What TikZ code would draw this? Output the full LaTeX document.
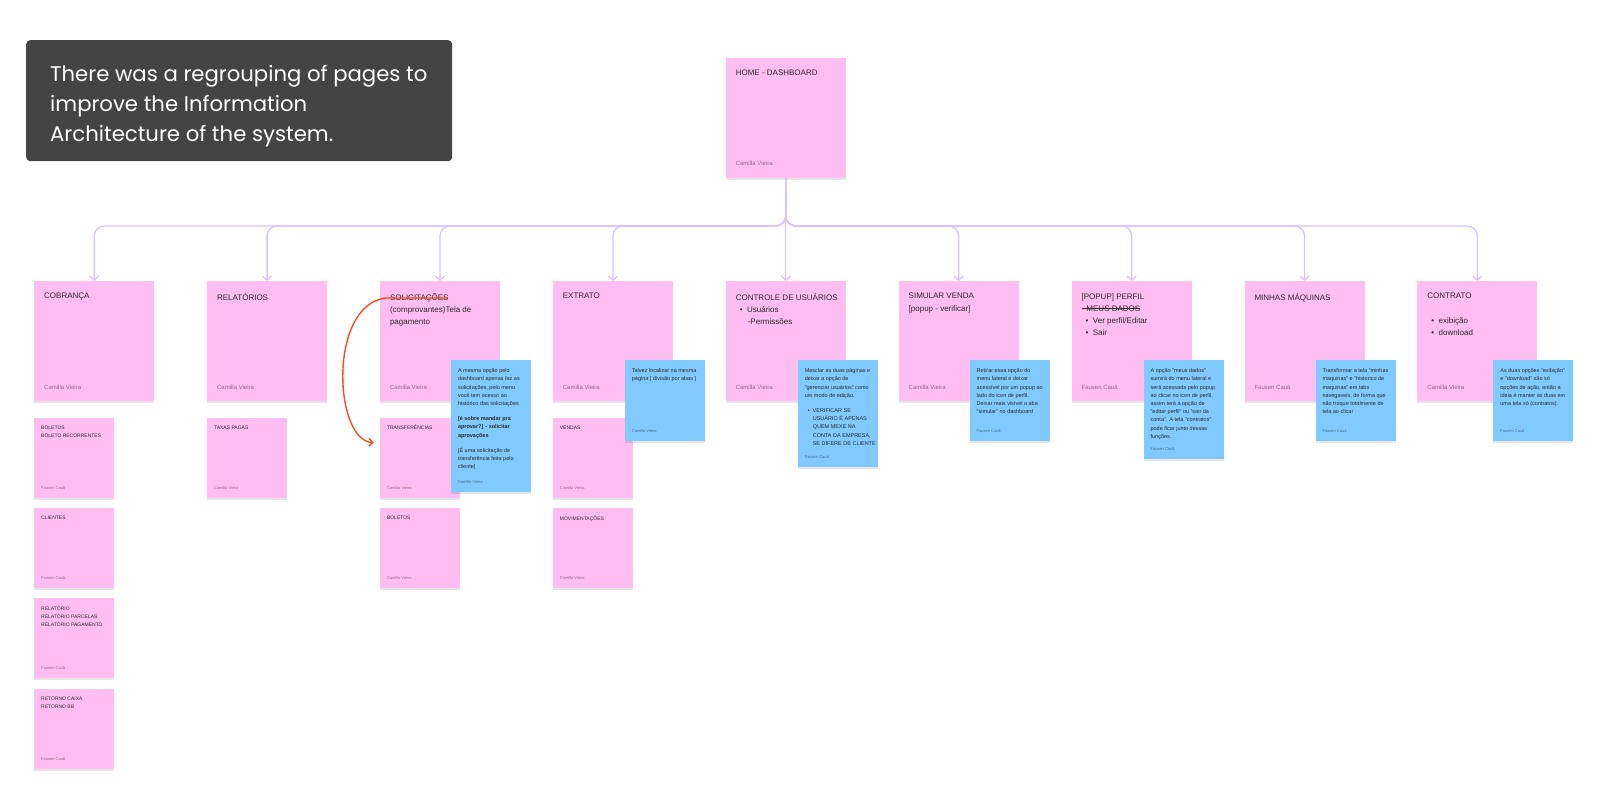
\documentclass[tikz,border=0pt]{standalone}
\usepackage{fontspec}
\setmainfont{Liberation Sans}
\newfontfamily\bannerfont{Poppins}
\usetikzlibrary{arrows.meta,positioning,shadows}
\definecolor{stickypink}{HTML}{FFBDF2}
\definecolor{stickyblue}{HTML}{80CAFF}
\definecolor{treeviolet}{HTML}{D8C2FF}
\definecolor{inkdark}{HTML}{2A2A2A}
\definecolor{signgray}{HTML}{8A6E8A}
\definecolor{notesign}{HTML}{4A6E8E}
\definecolor{markred}{HTML}{F24E1E}
\definecolor{bannergray}{HTML}{444444}
\newcommand{\stickybullet}[1]{\hspace*{4pt}\textbullet\hspace{4.5pt}#1}
\newcommand{\struck}[1]{\setbox0\hbox{#1}\rlap{\raisebox{0.33em}{\rule{\wd0}{0.5pt}}}\box0}
\tikzset{
  page/.style={fill=stickypink, minimum width=120pt, minimum height=120pt, inner sep=0pt,
    drop shadow={fill=black, opacity=0.10, shadow xshift=0pt, shadow yshift=-2pt}},
  subpage/.style={page, minimum width=80pt, minimum height=80pt},
  note/.style={fill=stickyblue, minimum width=80pt, inner sep=0pt,
    drop shadow={fill=black, opacity=0.10, shadow xshift=0pt, shadow yshift=-2pt}},
  pagetext/.style={anchor=north west, align=left, inner sep=0pt, text=inkdark,
    font=\fontsize{8}{12.3}\selectfont, xshift=10pt, yshift=-12pt},
  pagesign/.style={anchor=south west, inner sep=0pt, text=signgray,
    font=\fontsize{6}{7}\selectfont, xshift=10pt, yshift=12pt},
  subtext/.style={anchor=north west, align=left, inner sep=0pt, text=inkdark,
    font=\fontsize{5}{8}\selectfont, xshift=7pt, yshift=-8pt},
  subsign/.style={anchor=south west, inner sep=0pt, text=signgray,
    font=\fontsize{4}{5}\selectfont, xshift=7pt, yshift=8.5pt},
  notetext/.style={anchor=north west, align=left, inner sep=0pt, text=inkdark,
    font=\fontsize{5.5}{8.2}\selectfont, xshift=7pt, yshift=-8.5pt},
  notesig/.style={anchor=south west, inner sep=0pt, text=notesign,
    font=\fontsize{4}{5}\selectfont, xshift=7pt, yshift=8.5pt},
  banner/.style={fill=bannergray, rounded corners=4pt, minimum width=426pt,
    minimum height=121pt, inner sep=0pt},
  bannertext/.style={anchor=west, align=left, inner sep=0pt, text=white,
    font=\bannerfont\fontsize{21.2}{30}\selectfont, xshift=24pt, yshift=-5pt},
  tree/.style={draw=treeviolet, line width=1.3pt, rounded corners=10pt,
    -{Straight Barb[length=4pt,width=9pt]}},
  markup/.style={draw=markred, line width=1.4pt, line cap=round,
    -{Straight Barb[length=4pt,width=8pt]}}
}

\begin{document}
\begin{tikzpicture}[x=1pt, y=-1pt]
  \useasboundingbox (0,0) rectangle (1600,800);

  \node[banner, anchor=north west,
    label={[bannertext]west:{There was a regrouping of pages to\\improve the Information\\Architecture of the system.}}]
    (intro) at (26,40) {};

  % pages under the dashboard
  \node[page, anchor=north west, label={[pagetext]north west:COBRANÇA},
    label={[pagesign]south west:Camilla Vieira}] (cob) at (34,281) {};
  \node[page, right=52.5pt of cob, label={[pagetext]north west:RELATÓRIOS},
    label={[pagesign]south west:Camilla Vieira}] (rel) {};
  \node[page, right=52.5pt of rel,
    label={[pagetext]north west:{SOLICITAÇÕES\\(comprovantes)Tela de\\pagamento}},
    label={[pagesign]south west:Camilla Vieira}] (sol) {};
  \node[page, right=52.5pt of sol, label={[pagetext]north west:EXTRATO},
    label={[pagesign]south west:Camilla Vieira}] (ext) {};
  \node[page, right=52.5pt of ext,
    label={[pagetext]north west:{CONTROLE DE USUÁRIOS\\\stickybullet{Usuários}\\\hspace*{12pt}-Permissões}},
    label={[pagesign]south west:Camilla Vieira}] (ctl) {};
  \node[page, right=52.5pt of ctl,
    label={[pagetext]north west:{SIMULAR VENDA\\{}[popup - verificar]}},
    label={[pagesign]south west:Camilla Vieira}] (sim) {};
  \node[page, right=52.5pt of sim,
    label={[pagetext]north west:{[POPUP] PERFIL\\\struck{- MEUS DADOS}\\\stickybullet{Ver perfil/Editar}\\\stickybullet{Sair}}},
    label={[pagesign]south west:Fausen Cauã}] (per) {};
  \node[page, right=52.5pt of per, label={[pagetext]north west:MINHAS MÁQUINAS},
    label={[pagesign]south west:Fausen Cauã}] (maq) {};
  \node[page, right=52.5pt of maq,
    label={[pagetext]north west:{CONTRATO\\[12.3pt]\stickybullet{exibição}\\\stickybullet{download}}},
    label={[pagesign]south west:Camilla Vieira}] (con) {};

  \node[page, above=103pt of ctl, label={[pagetext]north west:HOME - DASHBOARD},
    label={[pagesign]south west:Camilla Vieira}] (home) {};

  \foreach \kid in {cob,rel,sol,ext,sim,per,maq,con}
    \draw[tree] (home.south) -- ++(0,48) -| (\kid.north);
  \draw[tree] (home.south) -- (ctl.north);

  % sub pages
  \node[subpage, below right=16pt and 0pt of cob.south west,
    label={[subtext]north west:{BOLETOS\\BOLETO RECORRENTES}},
    label={[subsign]south west:Fausen Cauã}] (cobbol) {};
  \node[subpage, below=10pt of cobbol, label={[subtext]north west:CLIENTES},
    label={[subsign]south west:Fausen Cauã}] (cobcli) {};
  \node[subpage, below=10pt of cobcli,
    label={[subtext]north west:{RELATÓRIO\\RELATÓRIO PARCELAS\\RELATÓRIO PAGAMENTO}},
    label={[subsign]south west:Fausen Cauã}] (cobrel) {};
  \node[subpage, below=10pt of cobrel,
    label={[subtext]north west:{RETORNO CAIXA\\RETORNO BB}},
    label={[subsign]south west:Fausen Cauã}] (cobret) {};

  \node[subpage, below right=16pt and 0pt of rel.south west,
    label={[subtext]north west:TAXAS PAGAS},
    label={[subsign]south west:Camilla Vieira}] (reltax) {};

  \node[subpage, below right=16pt and 0pt of sol.south west,
    label={[subtext]north west:TRANSFERÊNCIAS},
    label={[subsign]south west:Camilla Vieira}] (soltra) {};
  \node[subpage, below=10pt of soltra, label={[subtext]north west:BOLETOS},
    label={[subsign]south west:Camilla Vieira}] (solbol) {};

  \node[subpage, below right=16pt and 0pt of ext.south west,
    label={[subtext]north west:VENDAS},
    label={[subsign]south west:Camilla Vieira}] (extven) {};
  \node[subpage, below=10pt of extven, label={[subtext]north west:MOVIMENTAÇÕES},
    label={[subsign]south west:Camilla Vieira}] (extmov) {};

  % comments
  \node[note, minimum height=132pt, below right=79pt and 71pt of sol.north west,
    label={[notetext]north west:{A mesma opção pelo\\dashboard apenas faz as\\solicitações, pelo menu\\você tem acesso ao\\histórico das solicitações\\[7pt]\textbf{[é sobre mandar pra}\\\textbf{aprovar?] - solicitar}\\\textbf{aprovações}\\[7pt]{}[É uma solicitação de\\transferência feita pelo\\cliente]}},
    label={[notesig]south west:Camilla Vieira}] (solnote) {};
  \node[note, minimum height=81pt, below right=79pt and 72pt of ext.north west,
    label={[notetext]north west:{Talvez localizar na mesma\\página [ divisão por abas ]}},
    label={[notesig]south west:Camilla Vieira}] (extnote) {};
  \node[note, minimum height=107pt, below right=79pt and 72pt of ctl.north west,
    label={[notetext]north west:{Mesclar as duas páginas e\\deixar a opção de\\"gerenciar usuários" como\\um modo de edição.\\[7pt]\hspace*{3pt}\textbullet\hspace{3pt}VERIFICAR SE\\\hspace*{8pt}USUÁRIO É APENAS\\\hspace*{8pt}QUEM MEXE NA\\\hspace*{8pt}CONTA DA EMPRESA,\\\hspace*{8pt}SE DIFERE DE CLIENTE}},
    label={[notesig]south west:Fausen Cauã}] (ctlnote) {};
  \node[note, minimum height=81pt, below right=79pt and 71pt of sim.north west,
    label={[notetext]north west:{Retirar essa opção do\\menu lateral e deixar\\acessível por um popup ao\\lado do icon de perfil.\\Deixar mais visível a aba\\"simular" no dashboard}},
    label={[notesig]south west:Fausen Cauã}] (simnote) {};
  \node[note, minimum height=99pt, below right=79pt and 72pt of per.north west,
    label={[notetext]north west:{A opção "meus dados"\\sumirá do menu lateral e\\será acessada pelo popup\\ao clicar no icon de perfil,\\assim terá a opção de\\"editar perfil" ou "sair da\\conta". A tela "contratos"\\pode ficar junto dessas\\funções.}},
    label={[notesig]south west:Fausen Cauã}] (pernote) {};
  \node[note, minimum height=81pt, below right=79pt and 71pt of maq.north west,
    label={[notetext]north west:{Transformar a tela "minhas\\maquinas" e "historico de\\maquinas" em tabs\\navegaveis, de forma que\\não troque totalmente de\\tela ao clicar}},
    label={[notesig]south west:Fausen Cauã}] (maqnote) {};
  \node[note, minimum height=81pt, below right=79pt and 76pt of con.north west,
    label={[notetext]north west:{As duas opções "exibição"\\e "download" são só\\opções de ação, então a\\ideia é manter as duas em\\uma tela só (contratos).}},
    label={[notesig]south west:Fausen Cauã}] (connote) {};

  % red markup: moved to transferências
  \coordinate (strikeL) at ([xshift=6pt,yshift=-17pt]sol.north west);
  \coordinate (strikeR) at ([xshift=67pt,yshift=-17pt]sol.north west);
  \coordinate (moveend) at ([xshift=-6pt,yshift=15pt]soltra.west);
  \draw[markup] (strikeR) -- (strikeL) .. controls +(-58,7) and +(-40,-2) .. (moveend);
\end{tikzpicture}
\end{document}
